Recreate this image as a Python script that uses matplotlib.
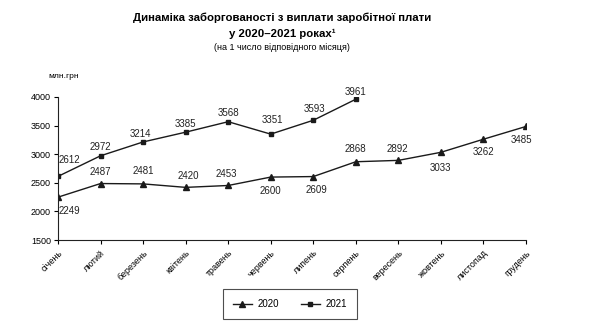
import matplotlib.pyplot as plt

plt.rcParams['font.family'] = ['Liberation Sans', 'DejaVu Sans']

months = ['січень', 'лютий', 'березень', 'квітень', 'травень', 'червень',
          'липень', 'серпень', 'вересень', 'жовтень', 'листопад', 'грудень']
debt_2020 = [2249, 2487, 2481, 2420, 2453, 2600, 2609, 2868, 2892, 3033, 3262, 3485]
debt_2021 = [2612, 2972, 3214, 3385, 3568, 3351, 3593, 3961]

# label offsets in points (dx, dy) for each point
off_2020 = [(8, -10), (0, 8), (0, 9), (2, 8), (-1, 8), (0, -10), (2, -10),
            (0, 9), (-1, 8), (0, -11), (0, -9), (-3, -10)]
off_2021 = [(8, 12), (0, 6), (-2, 6), (0, 6), (0, 6), (1, 10), (1, 8), (0, 5)]

fig = plt.figure(figsize=(6.0, 3.23), dpi=100)
ax = fig.add_axes([58 / 600, 1 - 240 / 323, (526 - 58) / 600, (240 - 97) / 323])

x20 = range(len(debt_2020))
x21 = range(len(debt_2021))
ax.plot(x20, debt_2020, color='#1a1a1a', lw=1.0, marker='^', ms=4, label='2020')
ax.plot(x21, debt_2021, color='#1a1a1a', lw=1.0, marker='s', ms=3, label='2021')

for xi, v, (dx, dy) in zip(x20, debt_2020, off_2020):
    ax.annotate(str(v), (xi, v), xytext=(dx, dy), textcoords='offset points',
                ha='center', va='center', fontsize=7, color='#222222')
for xi, v, (dx, dy) in zip(x21, debt_2021, off_2021):
    ax.annotate(str(v), (xi, v), xytext=(dx, dy), textcoords='offset points',
                ha='center', va='center', fontsize=7, color='#222222')

ax.set_xlim(0, 11)
ax.set_ylim(1500, 4000)
ax.set_yticks(range(1500, 4001, 500))
ax.set_xticks(range(12))
ax.set_xticklabels(months, rotation=45, ha='right', rotation_mode='anchor', fontsize=6.5)
ax.tick_params(axis='y', labelsize=6.5, length=3, width=0.8, pad=2)
ax.tick_params(axis='x', length=3, width=0.8, pad=3)
for s in ('top', 'right'):
    ax.spines[s].set_visible(False)
for s in ('left', 'bottom'):
    ax.spines[s].set_linewidth(0.8)
    ax.spines[s].set_color('#222222')

fig.text(0.47, 0.945, 'Динаміка заборгованості з виплати заробітної плати',
         ha='center', va='center', fontsize=8.2, fontweight='bold')
fig.text(0.47, 0.895, 'у 2020–2021 роках¹', ha='center', va='center',
         fontsize=8.2, fontweight='bold')
fig.text(0.47, 0.853, '(на 1 число відповідного місяця)', ha='center', va='center',
         fontsize=6.5)
fig.text(48 / 600, 1 - 76 / 323, 'млн.грн', ha='left', va='center', fontsize=6)

leg = fig.legend(loc='center', bbox_to_anchor=(290 / 600, 1 - 304 / 323), ncol=2,
                 fontsize=7, frameon=True, fancybox=False, edgecolor='#222222',
                 handlelength=2.0, columnspacing=2.2, borderpad=1.0,
                 handletextpad=0.6)
leg.get_frame().set_linewidth(0.8)

fig.savefig('out.png', dpi=100)
